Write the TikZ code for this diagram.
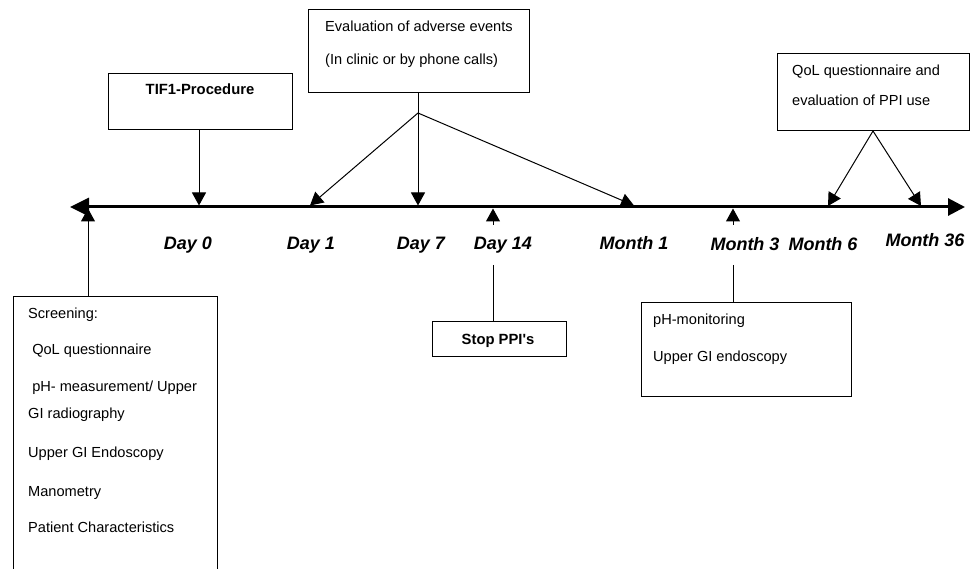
\documentclass[tikz,border=0pt]{standalone}
\usepackage{fontspec}
\setmainfont{Liberation Sans}
\usetikzlibrary{arrows.meta}
\begin{document}
\begin{tikzpicture}[x=1pt,y=-1pt,
  box/.style={draw,line width=1pt,rectangle,inner sep=0pt,outer sep=0pt},
  txt/.style={inner sep=0pt,anchor=base west,font=\fontsize{14.6}{17}\selectfont},
  btxt/.style={inner sep=0pt,anchor=base,font=\fontsize{14.8}{17}\selectfont\bfseries},
  lbl/.style={inner sep=0pt,anchor=base,font=\fontsize{18}{20}\selectfont\bfseries\itshape},
  conn/.style={line width=1pt},
  arr/.style={line width=1pt,-{Triangle[length=13pt,width=14pt]}},
  axis/.style={line width=3pt,{Triangle[length=19pt,width=18pt]}-{Triangle[length=17pt,width=17pt]}}]
\useasboundingbox (0,0) rectangle (978,569);
% timeline
\coordinate (L) at (70,207);
\coordinate (R) at (965,207);
\draw[axis] (L) -- (R);
% points on timeline
\coordinate (d0) at (199,205.5);
\coordinate (d1) at (310,205.5);
\coordinate (d7) at (418,205.5);
\coordinate (m1) at (634,205.5);
\coordinate (m6) at (828,206);
\coordinate (m36) at (921,206);
\coordinate (s0) at (88,208.5);
\coordinate (d14) at (493,208.5);
\coordinate (d14b) at (493,225);
\coordinate (d14c) at (493,265);
\coordinate (m3) at (733,208.5);
\coordinate (m3b) at (733,225);
\coordinate (m3c) at (733,265);
\coordinate (j1) at (418,113);
% labels
\node[lbl] (ld0) at (188,250) {Day 0};
\node[lbl] (ld1) at (311,250) {Day 1};
\node[lbl] (ld7) at (421,250) {Day 7};
\node[lbl] (ld14) at (503,250) {Day 14};
\node[lbl] (lm1) at (634,250) {Month 1};
\node[lbl] (lm3) at (745,251) {Month 3};
\node[lbl] (lm6) at (823,251) {Month 6};
\node[lbl] (lm36) at (925,247) {Month 36};
% boxes
\node[box,minimum width=184pt,minimum height=56pt] (tif) at (200,102) {};
\node[btxt] (tift) at (200,95) {TIF1-Procedure};
\node[box,minimum width=221pt,minimum height=83pt] (eval) at (418.5,51.5) {};
\node[txt] (evt1) at (325,32) {Evaluation of adverse events};
\node[txt] (evt2) at (325,65) {(In clinic or by phone calls)};
\node[box,minimum width=192pt,minimum height=77pt] (qol) at (873,92.5) {};
\node[txt] (qt1) at (792,76) {QoL questionnaire and};
\node[txt] (qt2) at (792,106) {evaluation of PPI use};
\node[box,minimum width=204pt,minimum height=303pt] (scr) at (115,448.5) {};
\node[txt] (s1) at (28,319) {Screening:};
\node[txt] (s2) at (28,355) {\ QoL questionnaire};
\node[txt] (s3) at (28,392) {\ pH- measurement/ Upper};
\node[txt] (s4) at (28,418) {GI radiography};
\node[txt] (s5) at (28,457) {Upper GI Endoscopy};
\node[txt] (s6) at (28,496) {Manometry};
\node[txt] (s7) at (28,532) {Patient Characteristics};
\node[box,minimum width=134pt,minimum height=35pt] (stop) at (499,339.5) {};
\node[btxt] (stopt) at (498,345) {Stop PPI\textquotesingle s};
\node[box,minimum width=210pt,minimum height=94pt] (ph) at (746,350) {};
\node[txt] (p1) at (653,325) {pH-monitoring};
\node[txt] (p2) at (653,362) {Upper GI endoscopy};
% connectors
\draw[arr] (tif.south -| d0) -- (d0);
\draw[conn] (eval.south -| j1) -- (j1);
\draw[arr] (j1) -- (d1);
\draw[arr] (j1) -- (d7);
\draw[arr] (j1) -- (m1);
\draw[arr] (qol.south) -- (m6);
\draw[arr] (qol.south) -- (m36);
\draw[arr] (scr.north -| s0) -- (s0);
\draw[arr] (d14b) -- (d14);
\draw[conn] (d14c) -- (stop.north -| d14c);
\draw[arr] (m3b) -- (m3);
\draw[conn] (m3c) -- (ph.north -| m3c);
\end{tikzpicture}
\end{document}
